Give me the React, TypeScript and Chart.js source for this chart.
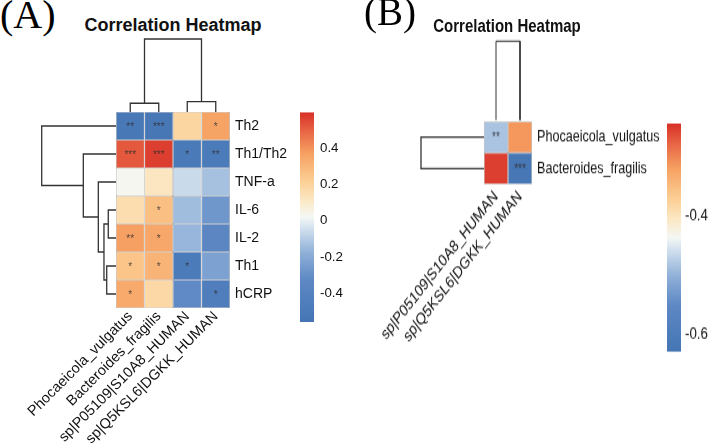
import React, { useEffect, useRef } from 'react';
import { Chart, registerables } from 'chart.js';

Chart.register(...registerables);

// ---------------- DATA ----------------
const colsA = ['Phocaeicola_vulgatus', 'Bacteroides_fragilis', 'sp|P05109|S10A8_HUMAN', 'sp|Q5KSL6|DGKK_HUMAN'];
const rowsA = ['Th2', 'Th1/Th2', 'TNF-a', 'IL-6', 'IL-2', 'Th1', 'hCRP'];
const valuesA = [
  [-0.52, -0.53, 0.19, 0.36],
  [0.52, 0.57, -0.5, -0.49],
  [0.03, 0.12, -0.06, -0.13],
  [0.16, 0.27, -0.14, -0.27],
  [0.37, 0.35, -0.16, -0.35],
  [0.25, 0.31, -0.49, -0.23],
  [0.34, 0.18, -0.32, -0.45],
];
const starsA = [
  ['**', '***', '', '*'],
  ['***', '***', '*', '**'],
  ['', '', '', ''],
  ['', '*', '', ''],
  ['**', '*', '', ''],
  ['*', '*', '*', ''],
  ['*', '', '', '*'],
];
const rangeA = [-0.56, 0.6];
const ticksA = [-0.4, -0.2, 0, 0.2, 0.4];
// hclust-style merges: negative = leaf index (1-based), positive = earlier merge (1-based)
const colMergeA = [[-1, -2], [-3, -4], [1, 2]];
const colHeightA = [0.12, 0.143, 1];
const rowMergeA = [[-4, -5], [-6, -7], [1, 2], [-3, 3], [-2, 4], [-1, 5]];
const rowHeightA = [0.104, 0.125, 0.162, 0.238, 0.44, 1];

const colsB = ['sp|P05109|S10A8_HUMAN', 'sp|Q5KSL6|DGKK_HUMAN'];
const rowsB = ['Phocaeicola_vulgatus', 'Bacteroides_fragilis'];
const valuesB = [
  [-0.485, -0.315],
  [-0.255, -0.62],
];
const starsB = [
  ['**', ''],
  ['', '***'],
];
const rangeB = [-0.63, -0.245];
const ticksB = [-0.6, -0.4];
const colMergeB = [[-1, -2]];
const colHeightB = [1];
const rowMergeB = [[-1, -2]];
const rowHeightB = [1];

// ---------------- STYLE ----------------
const FONT = '"Liberation Sans", Arial, sans-serif';
const paletteStops: [number, string][] = [
  [0, '#4575b4'],
  [0.2, '#5d88c4'],
  [0.33, '#8fb0d8'],
  [0.45, '#d4e2ef'],
  [0.5, '#f4f8f4'],
  [0.58, '#fbe8c4'],
  [0.67, '#fccf95'],
  [0.8, '#f6a263'],
  [0.9, '#ea6b48'],
  [1, '#d73027'],
];

function hexToRgb(h: string) {
  const n = parseInt(h.slice(1), 16);
  return [(n >> 16) & 255, (n >> 8) & 255, n & 255];
}

function colorFor(v: number, range: number[]) {
  let t = (v - range[0]) / (range[1] - range[0]);
  t = Math.max(0, Math.min(1, t));
  for (let i = 1; i < paletteStops.length; i++) {
    const [t1, c1] = paletteStops[i];
    const [t0, c0] = paletteStops[i - 1];
    if (t <= t1) {
      const f = (t - t0) / (t1 - t0);
      const a = hexToRgb(c0);
      const b = hexToRgb(c1);
      const r = a.map((x, k) => Math.round(x + (b[k] - x) * f));
      return `rgb(${r[0]},${r[1]},${r[2]})`;
    }
  }
  return paletteStops[paletteStops.length - 1][1];
}

const starPlugin = {
  id: 'stars',
  afterDatasetsDraw(chart: any, _args: any, opts: any) {
    const ctx = chart.ctx;
    ctx.save();
    ctx.font = `${opts.size}px ${FONT}`;
    ctx.fillStyle = opts.color;
    ctx.textAlign = 'center';
    ctx.textBaseline = 'middle';
    chart.data.datasets.forEach((ds: any, di: number) => {
      const meta = chart.getDatasetMeta(di);
      meta.data.forEach((el: any, j: number) => {
        const s = ds.stars ? ds.stars[j] : '';
        if (!s) return;
        const p = el.getProps(['x', 'y', 'base'], true);
        ctx.fillText(s, p.x, (p.y + p.base) / 2 + 1);
      });
    });
    ctx.restore();
  },
};

type Area = { l: number; t: number; r: number; b: number };

function makeHeatmap(
  canvas: HTMLCanvasElement,
  cfg: {
    cols: string[]; rows: string[]; values: number[][]; stars: string[][]; range: number[];
    area: Area; cw: number; ch: number; W: number; H: number;
    rowFont: number; colFont: number; rowPad: number; colPad: number;
  }
) {
  const { cols, rows, values, stars, range, area, cw, ch, W, H } = cfg;
  const datasets = rows
    .map((r, i) => ({
      label: r,
      data: cols.map(() => 1),
      backgroundColor: values[i].map((v) => colorFor(v, range)),
      borderColor: '#a3a3a3',
      borderWidth: 0.6,
      borderSkipped: false,
      barPercentage: 1,
      categoryPercentage: 1,
      inflateAmount: 0,
      stars: stars[i],
    }))
    .reverse();
  return new Chart(canvas, {
    type: 'bar',
    data: { labels: cols, datasets: datasets as any },
    plugins: [starPlugin as any],
    options: {
      responsive: false,
      animation: false,
      events: [],
      layout: { padding: { left: area.l, top: area.t, right: cw - area.r - W, bottom: ch - area.b - H } },
      plugins: {
        legend: { display: false },
        tooltip: { enabled: false },
        stars: { size: 10, color: 'rgba(45,45,45,0.8)' },
      } as any,
      scales: {
        x: {
          type: 'category',
          stacked: true,
          position: 'bottom',
          grid: { display: false, drawTicks: false },
          border: { display: false },
          ticks: {
            minRotation: 45, maxRotation: 45, autoSkip: false, padding: cfg.colPad,
            font: { family: FONT, size: cfg.colFont }, color: '#111',
          },
          afterFit: (s: any) => { s.height = H; s.paddingLeft = 0; s.paddingRight = 0; },
        },
        y: { type: 'linear', stacked: true, min: 0, max: rows.length, display: false },
        y2: {
          type: 'category',
          labels: rows,
          position: 'right',
          offset: true,
          grid: { display: false, drawTicks: false },
          border: { display: false },
          ticks: {
            padding: cfg.rowPad, crossAlign: 'near', autoSkip: false,
            font: { family: FONT, size: cfg.rowFont }, color: '#111',
          },
          afterFit: (s: any) => { s.width = W; s.paddingTop = 0; s.paddingBottom = 0; },
        },
      } as any,
    },
  });
}

function makeColorbar(
  canvas: HTMLCanvasElement,
  cfg: { range: number[]; ticks: number[]; area: Area; cw: number; ch: number; W: number; font: number; pad: number }
) {
  const { range, ticks, area, cw, ch, W } = cfg;
  return new Chart(canvas, {
    type: 'bar',
    data: {
      labels: [''],
      datasets: [
        {
          data: [[range[0], range[1]]] as any,
          backgroundColor: (c: any) => {
            const a = c.chart.chartArea;
            if (!a) return paletteStops[0][1];
            const g = c.chart.ctx.createLinearGradient(0, a.bottom, 0, a.top);
            paletteStops.forEach(([t, col]) => g.addColorStop(t, col));
            return g;
          },
          borderWidth: 0,
          barPercentage: 1,
          categoryPercentage: 1,
          inflateAmount: 0,
        } as any,
      ],
    },
    options: {
      responsive: false,
      animation: false,
      events: [],
      layout: { padding: { left: area.l, top: area.t, right: cw - area.r - W, bottom: ch - area.b } },
      plugins: { legend: { display: false }, tooltip: { enabled: false } },
      scales: {
        x: { display: false },
        y: {
          type: 'linear',
          position: 'right',
          min: range[0],
          max: range[1],
          grid: { display: false, drawTicks: false },
          border: { display: false },
          afterBuildTicks: (s: any) => { s.ticks = ticks.map((v) => ({ value: v })); },
          ticks: {
            padding: cfg.pad,
            font: { family: FONT, size: cfg.font },
            color: '#111',
            callback: (v: any) => (v === 0 ? '0' : String(v)),
          },
          afterFit: (s: any) => { s.width = W; s.paddingTop = 0; s.paddingBottom = 0; },
        },
      } as any,
    },
  });
}

function dendroSegments(merge: number[][], heights: number[]) {
  const pos: number[] = [];
  const segs: number[][][] = [];
  merge.forEach(([a, b], k) => {
    const get = (i: number) => (i < 0 ? { p: -i - 1, h: 0 } : { p: pos[i - 1], h: heights[i - 1] });
    const ca = get(a);
    const cb = get(b);
    const H = heights[k];
    pos[k] = (ca.p + cb.p) / 2;
    segs.push([[ca.p, ca.h], [ca.p, H], [cb.p, H], [cb.p, cb.h]]);
  });
  return segs;
}

function makeDendro(
  canvas: HTMLCanvasElement,
  cfg: { merge: number[][]; heights: number[]; n: number; horizontal: boolean; area: Area; cw: number; ch: number; lw: number }
) {
  const { merge, heights, n, horizontal, area, cw, ch } = cfg;
  const segs = dendroSegments(merge, heights);
  const datasets = segs.map((s) => ({
    data: s.map(([p, h]) => (horizontal ? { x: h, y: p } : { x: p, y: h })),
    showLine: true,
    borderColor: '#333',
    borderWidth: cfg.lw,
    pointRadius: 0,
    fill: false,
    tension: 0,
    clip: false,
    borderCapStyle: 'butt',
    borderJoinStyle: 'miter',
  }));
  const posScale = { type: 'linear', display: false, min: -0.5, max: n - 0.5 };
  const hScale = { type: 'linear', display: false, min: 0, max: 1 };
  return new Chart(canvas, {
    type: 'scatter',
    data: { datasets: datasets as any },
    options: {
      responsive: false,
      animation: false,
      events: [],
      layout: { padding: { left: area.l, top: area.t, right: cw - area.r, bottom: ch - area.b } },
      plugins: { legend: { display: false }, tooltip: { enabled: false } },
      scales: horizontal
        ? ({ x: { ...hScale, reverse: true }, y: { ...posScale, reverse: true } } as any)
        : ({ x: { ...posScale }, y: { ...hScale } } as any),
    },
  });
}

// ---------------- COMPONENT ----------------
const PW = 708;
const PH = 447;
const SY = 1.27;
const BH = PH / SY;

export default function App() {
  const refs = useRef<(HTMLCanvasElement | null)[]>([]);

  useEffect(() => {
    const c = refs.current;
    const charts: Chart[] = [];
    // Panel A
    charts.push(
      makeHeatmap(c[0]!, {
        cols: colsA, rows: rowsA, values: valuesA, stars: starsA, range: rangeA,
        area: { l: 116, t: 112, r: 230, b: 308 }, cw: PW, ch: PH, W: 80, H: 135,
        rowFont: 14, colFont: 14.5, rowPad: 5, colPad: 0,
      })
    );
    charts.push(makeDendro(c[1]!, { merge: colMergeA, heights: colHeightA, n: colsA.length, horizontal: false, area: { l: 116, t: 39, r: 230, b: 112 }, cw: PW, ch: PH, lw: 1.3 }));
    charts.push(makeDendro(c[2]!, { merge: rowMergeA, heights: rowHeightA, n: rowsA.length, horizontal: true, area: { l: 41.7, t: 112, r: 116, b: 308 }, cw: PW, ch: PH, lw: 1.3 }));
    charts.push(makeColorbar(c[3]!, { range: rangeA, ticks: ticksA, area: { l: 300, t: 112.3, r: 314, b: 322 }, cw: PW, ch: PH, W: 40, font: 13.3, pad: 6 }));
    // Panel B (natural coordinates, stretched vertically by SY)
    charts.push(
      makeHeatmap(c[4]!, {
        cols: colsB, rows: rowsB, values: valuesB, stars: starsB, range: rangeB,
        area: { l: 484, t: 95.3, r: 532, b: 145.7 }, cw: PW, ch: BH, W: 140, H: 150,
        rowFont: 12.6, colFont: 13, rowPad: 5, colPad: 2,
      })
    );
    charts.push(makeDendro(c[5]!, { merge: colMergeB, heights: colHeightB, n: colsB.length, horizontal: false, area: { l: 484, t: 32.3, r: 532, b: 95.3 }, cw: PW, ch: BH, lw: 1.0 }));
    charts.push(makeDendro(c[6]!, { merge: rowMergeB, heights: rowHeightB, n: rowsB.length, horizontal: true, area: { l: 421, t: 95.3, r: 484, b: 145.7 }, cw: PW, ch: BH, lw: 1.3 }));
    charts.push(makeColorbar(c[7]!, { range: rangeB, ticks: ticksB, area: { l: 667, t: 96.9, r: 681, b: 277.2 }, cw: PW, ch: BH, W: 27, font: 13.3, pad: 4 }));
    return () => charts.forEach((ch) => ch.destroy());
  }, []);

  const cv = (i: number, h: number) => (
    <canvas
      key={i}
      ref={(el) => { refs.current[i] = el; }}
      width={PW}
      height={h}
      style={{ position: 'absolute', left: 0, top: 0, width: PW, height: h }}
    />
  );

  return (
    <div style={{ position: 'absolute', left: 0, top: 0, width: PW, height: PH, overflow: 'hidden', background: '#fff' }}>
      <div style={{ position: 'absolute', left: 0, top: -5.5, fontFamily: '"Liberation Serif", "Times New Roman", serif', fontSize: 40, lineHeight: '40px', color: '#000', whiteSpace: 'nowrap' }}>(A)</div>
      <div style={{ position: 'absolute', left: 173, top: 15.8, transform: 'translateX(-50%)', fontFamily: FONT, fontWeight: 'bold', fontSize: 18, lineHeight: '18px', color: '#111', whiteSpace: 'nowrap' }}>Correlation Heatmap</div>
      {cv(0, PH)}
      {cv(1, PH)}
      {cv(2, PH)}
      {cv(3, PH)}
      <div style={{ position: 'absolute', left: 364, top: -7.6, fontFamily: '"Liberation Serif", "Times New Roman", serif', fontSize: 39, lineHeight: '39px', color: '#000', whiteSpace: 'nowrap' }}>(B)</div>
      <div style={{ position: 'absolute', left: 0, top: 0, width: PW, height: BH, transform: `scaleY(${SY})`, transformOrigin: '0 0' }}>
        <div style={{ position: 'absolute', left: 507, top: 12.3, transform: 'translateX(-50%)', fontFamily: FONT, fontWeight: 'bold', fontSize: 15, lineHeight: '15px', color: '#111', whiteSpace: 'nowrap' }}>Correlation Heatmap</div>
        {cv(4, BH)}
        {cv(5, BH)}
        {cv(6, BH)}
        {cv(7, BH)}
      </div>
    </div>
  );
}
